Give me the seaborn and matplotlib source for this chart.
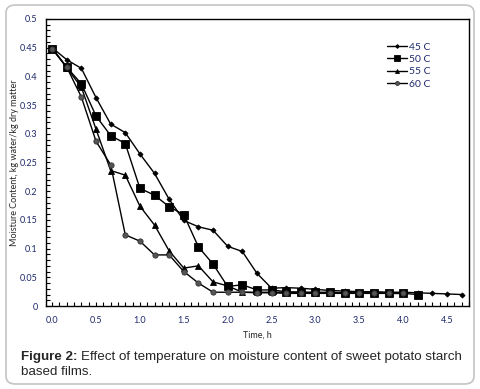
import matplotlib
matplotlib.use("Agg")
import matplotlib.pyplot as plt
import seaborn as sns
import numpy as np
import pandas as pd
from matplotlib.ticker import MultipleLocator, FuncFormatter
from matplotlib.patches import FancyBboxPatch

sns.set_style("white")
plt.rcParams['font.family'] = ['Lato', 'DejaVu Sans']

step = 1/6
t45 = [i*step for i in range(29)]
m45 = [0.450, 0.429, 0.414, 0.363, 0.317, 0.302, 0.265, 0.231, 0.186, 0.149, 0.138, 0.132,
       0.104, 0.095, 0.057, 0.031, 0.032, 0.031, 0.029, 0.027, 0.026, 0.025, 0.025, 0.024,
       0.024, 0.023, 0.022, 0.021, 0.020]
t50 = [i*step for i in range(26)]
m50 = [0.448, 0.416, 0.387, 0.331, 0.297, 0.283, 0.205, 0.193, 0.173, 0.159, 0.103, 0.073,
       0.034, 0.037, 0.028, 0.028, 0.025, 0.024, 0.024, 0.024, 0.023, 0.023, 0.023, 0.022,
       0.022, 0.020]
t55 = [i*step for i in range(25)]
m55 = [0.450, 0.415, 0.381, 0.308, 0.236, 0.228, 0.174, 0.141, 0.096, 0.066, 0.070, 0.042,
       0.035, 0.024, 0.024, 0.024, 0.024, 0.024, 0.023, 0.023, 0.023, 0.023, 0.023, 0.022,
       0.022]
t60 = [i*step for i in range(25)]
m60 = [0.448, 0.416, 0.364, 0.287, 0.246, 0.124, 0.113, 0.089, 0.089, 0.060, 0.040, 0.024,
       0.024, 0.024, 0.023, 0.023, 0.022, 0.022, 0.022, 0.022, 0.022, 0.022, 0.022, 0.022,
       0.022]
labels = ["45 C", "50 C", "55 C", "60 C"]

fig = plt.figure(figsize=(4.8, 3.89), dpi=100)
fig.patches.append(FancyBboxPatch((6/480, 5/389), 468/480, 379/389,
                                  boxstyle="round,pad=0,rounding_size=0.02",
                                  transform=fig.transFigure, fc='none', ec='#c4c4c4', lw=1.2,
                                  zorder=-1))
ax = fig.add_axes([46/480, (389-306)/389, (469-46)/480, (306-19)/389])

styles = [
    dict(marker='D', markersize=2.6, mfc='black', mec='black'),
    dict(marker='s', markersize=5.2, mfc='black', mec='black'),
    dict(marker='^', markersize=3.8, mfc='black', mec='black'),
    dict(marker='o', markersize=3.8, mfc='#555555', mec='#333333'),
]
for t, m, lab, st in zip([t45, t50, t55, t60], [m45, m50, m55, m60], labels, styles):
    sns.lineplot(x=t, y=m, ax=ax, color='black', lw=1.0, label=lab, markeredgewidth=0.6, **st)

ax.set_xlim(-0.07, 4.75)
ax.set_ylim(0, 0.5)
ax.xaxis.set_major_locator(MultipleLocator(0.5))
ax.xaxis.set_minor_locator(MultipleLocator(1/12))
ax.yaxis.set_major_locator(MultipleLocator(0.05))
ax.yaxis.set_minor_locator(MultipleLocator(0.01))
ax.xaxis.set_major_formatter(FuncFormatter(lambda v, p: f"{v:.1f}"))
ax.yaxis.set_major_formatter(FuncFormatter(lambda v, p: "0" if abs(v) < 1e-9 else f"{v:.2f}".rstrip('0')))
tc = '#1f2a6b'
ax.tick_params(axis='both', which='both', direction='in', length=3, width=0.8, color='black',
               labelsize=6.5, labelcolor=tc)
ax.tick_params(axis='x', which='both', pad=7, bottom=True, top=False)
ax.tick_params(axis='y', which='both', pad=6, left=True, right=False)
for s in ax.spines.values():
    s.set_color('black')
    s.set_linewidth(1.0)

ax.set_xlabel("Time, h", fontsize=6.5, labelpad=4)
ax.set_ylabel("Moisture Content, kg water/kg dry matter", fontsize=6.5, labelpad=1)

leg = ax.legend(loc='upper left', bbox_to_anchor=((382-46)/423, (306-37)/287), frameon=False,
                fontsize=7.5, handlelength=1.9, handletextpad=0.2, labelspacing=0.3, borderpad=0,
                markerscale=0.75)
for txt in leg.get_texts():
    txt.set_color(tc)

fig.text(21/480, 1-357/389, "Figure 2:", fontsize=9.6, fontweight='bold', family='Liberation Sans',
         va='center', ha='left')
fig.text(81/480, 1-357/389, "Effect of temperature on moisture content of sweet potato starch",
         fontsize=9.6, family='Liberation Sans', va='center', ha='left')
fig.text(21/480, 1-372/389, "based films.", fontsize=9.6, family='Liberation Sans',
         va='center', ha='left')

fig.savefig("out.png", dpi=100)
